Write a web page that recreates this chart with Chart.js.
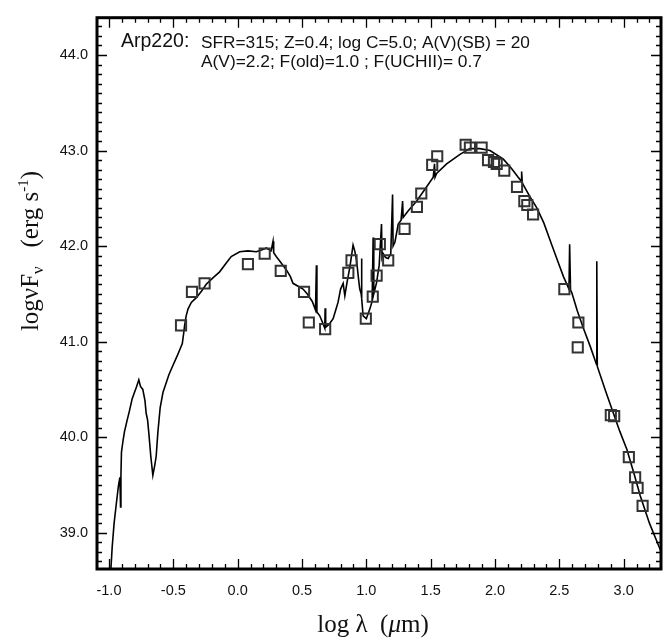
<!DOCTYPE html>
<html>
<head>
<meta charset="utf-8">
<script src="https://cdn.jsdelivr.net/npm/chart.js@4.4.1/dist/chart.umd.min.js"></script>
<style>
  html, body { margin: 0; padding: 0; background: #fff; }
</style>
</head>
<body>
<canvas id="sedChart" width="671" height="642"></canvas>
<script>
// observed photometry (log lambda [um], log nuF_nu)
const obsX = [-0.44, -0.355, -0.257, 0.08, 0.21, 0.335, 0.516, 0.553, 0.68, 0.86, 0.885, 0.996, 1.05, 1.08, 1.105,
  1.17, 1.297, 1.393, 1.427, 1.512, 1.551, 1.772, 1.805, 1.896, 1.946, 1.992, 2.013, 2.072, 2.171, 2.228, 2.251, 2.296,
  2.539, 2.648, 2.643, 2.90, 2.926, 3.04, 3.089, 3.108, 3.147];
const obsY = [41.17, 41.52, 41.61, 41.81, 41.92, 41.74, 41.52, 41.20, 41.13, 41.72, 41.85, 41.24, 41.47, 41.69, 42.02,
  41.85, 42.18, 42.41, 42.55, 42.85, 42.94, 43.06, 43.03, 43.03, 42.90, 42.88, 42.86, 42.79, 42.62, 42.47, 42.43, 42.33,
  41.55, 41.20, 40.94, 40.23, 40.22, 39.79, 39.58, 39.47, 39.28];

// model SED (incl. emission / absorption line spikes)
const modelX = [-0.988, -0.975, -0.96, -0.944, -0.93, -0.924, -0.915, -0.91, -0.907, -0.903, -0.89, -0.879, -0.86, -0.84,
  -0.82, -0.807, -0.785, -0.768, -0.755, -0.737, -0.72, -0.711, -0.70, -0.69, -0.675, -0.659, -0.645, -0.633, -0.62,
  -0.602, -0.58, -0.555, -0.535, -0.516, -0.47, -0.43, -0.42, -0.412, -0.40, -0.386, -0.36, -0.321, -0.28, -0.244,
  -0.19, -0.14, -0.09, -0.05, 0.016, 0.08, 0.145, 0.19, 0.223, 0.26, 0.275, 0.28, 0.30, 0.34, 0.379, 0.41, 0.43, 0.47,
  0.508, 0.54, 0.58, 0.605, 0.612, 0.616, 0.638, 0.66, 0.677, 0.68, 0.684, 0.71, 0.742, 0.76, 0.78, 0.80, 0.82, 0.833,
  0.85, 0.872, 0.897, 0.91, 0.924, 0.94, 0.949, 0.96, 0.962, 0.966, 0.975, 1.0, 1.027, 1.045, 1.053, 1.058, 1.08, 1.10,
  1.118, 1.122, 1.131, 1.15, 1.17, 1.19, 1.204, 1.208, 1.222, 1.248, 1.27, 1.282, 1.286, 1.326, 1.39, 1.469, 1.52,
  1.53, 1.534, 1.546, 1.624, 1.728, 1.805, 1.883, 1.961, 2.065, 2.13, 2.18, 2.205, 2.207, 2.212, 2.22, 2.27, 2.325,
  2.38, 2.428, 2.48, 2.532, 2.575, 2.58, 2.587, 2.597, 2.64, 2.687, 2.74, 2.789, 2.791, 2.795, 2.86, 2.92, 2.97,
  3.025, 3.08, 3.128, 3.20, 3.297];
const modelY = [38.55, 38.85, 39.10, 39.29, 39.45, 39.51, 39.58, 39.27, 39.60, 39.84, 39.97, 40.06, 40.17, 40.28,
  40.40, 40.45, 40.53, 40.60, 40.53, 40.50, 40.38, 40.25, 40.18, 40.04, 39.80, 39.60, 39.70, 39.80, 40.05,
  40.31, 40.47, 40.57, 40.65, 40.71, 40.85, 40.98, 41.08, 41.17, 41.27, 41.34, 41.41, 41.46, 41.53, 41.60,
  41.67, 41.73, 41.82, 41.89, 41.94, 41.95, 41.94, 41.96, 41.98, 41.95, 42.05, 41.93, 41.89, 41.82, 41.75, 41.68, 41.61, 41.58,
  41.55, 41.50, 41.42, 41.33, 41.80, 41.31, 41.27, 41.20, 41.14, 41.35, 41.15, 41.18, 41.24, 41.32, 41.41, 41.55, 41.61, 41.48,
  41.62, 41.78, 42.01, 41.95, 41.85, 41.65, 41.55, 41.50, 41.87, 41.45, 41.27, 41.24, 41.34, 41.42, 42.09, 41.50, 41.62, 41.80,
  42.23, 41.88, 41.92, 41.88, 41.87, 41.92, 42.54, 42.00, 42.04, 42.23, 42.27, 42.47, 42.30, 42.37, 42.47, 42.62, 42.72,
  42.86, 42.72, 42.76, 42.86, 42.96, 43.02, 43.02, 43.00, 42.91, 42.81, 42.72, 42.68, 42.78, 42.66, 42.64, 42.52, 42.40,
  42.24, 42.06, 41.87, 41.68, 41.55, 42.02, 41.54, 41.51, 41.32, 41.14, 40.95, 40.76, 41.84, 40.74, 40.48, 40.25, 40.06,
  39.87, 39.62, 39.39, 39.10, 38.78];

const xTickValues = [-1.0, -0.5, 0.0, 0.5, 1.0, 1.5, 2.0, 2.5, 3.0];
const yTickValues = [39.0, 40.0, 41.0, 42.0, 43.0, 44.0];

const infoName = 'Arp220:';
const infoLine1 = 'SFR=315; Z=0.4; log C=5.0; A(V)(SB) = 20';
const infoLine2 = 'A(V)=2.2; F(old)=1.0 ; F(UCHII)= 0.7';

const SANS = "'Liberation Sans', Arial, Helvetica, sans-serif";
const SERIF = "'Liberation Serif', 'Times New Roman', serif";

// frame, inward ticks, axis titles and labels inside the plot
const framePlugin = {
  id: 'frame',
  afterDraw(chart) {
    const ctx = chart.ctx;
    const a = chart.chartArea;
    const xs = chart.scales.x, ys = chart.scales.y;
    ctx.save();
    ctx.strokeStyle = '#000';

    // minor / major ticks on all four sides
    ctx.lineWidth = 1.3;
    ctx.beginPath();
    for (let i = -10; i <= 32; i++) {
      const px = Math.round(xs.getPixelForValue(i / 10)) + 0.5;
      if (px < a.left + 2 || px > a.right - 2) continue;
      const len = (i % 5 === 0) ? 10 : 5;
      ctx.moveTo(px, a.bottom); ctx.lineTo(px, a.bottom - len);
      ctx.moveTo(px, a.top); ctx.lineTo(px, a.top + len);
    }
    for (let i = 387; i <= 443; i++) {
      const py = Math.round(ys.getPixelForValue(i / 10)) + 0.5;
      if (py < a.top + 2 || py > a.bottom - 2) continue;
      const len = (i % 10 === 0) ? 10 : 5;
      ctx.moveTo(a.left, py); ctx.lineTo(a.left + len, py);
      ctx.moveTo(a.right, py); ctx.lineTo(a.right - len, py);
    }
    ctx.stroke();

    ctx.lineWidth = 3;
    ctx.strokeRect(a.left, a.top, a.right - a.left, a.bottom - a.top);

    // labels inside plot
    ctx.fillStyle = '#111';
    ctx.textBaseline = 'alphabetic';
    ctx.textAlign = 'left';
    ctx.font = '19.5px ' + SANS;
    ctx.fillText(infoName, 121, 47);
    ctx.font = '14px ' + SANS;
    const w1 = ctx.measureText(infoLine1).width;
    ctx.font = (14 * 329 / w1).toFixed(2) + 'px ' + SANS;
    ctx.fillText(infoLine1, 201, 48);
    ctx.font = '14px ' + SANS;
    const w2 = ctx.measureText(infoLine2).width;
    ctx.font = (14 * 281 / w2).toFixed(2) + 'px ' + SANS;
    ctx.fillText(infoLine2, 201, 67);

    // x title: log λ  (μm)
    const xParts = [
      { t: 'log \u03bb  (', f: '25px ' + SERIF },
      { t: '\u03bc', f: 'italic 25px ' + SERIF },
      { t: 'm)', f: '25px ' + SERIF }
    ];
    drawParts(ctx, xParts, 373, 632);

    // y title: logνFν (erg s-1), rotated
    ctx.save();
    ctx.translate(38, 251);
    ctx.rotate(-Math.PI / 2);
    const yParts = [
      { t: 'log\u03bdF', f: '25px ' + SERIF },
      { t: '\u03bd', f: '17px ' + SERIF, dy: 5 },
      { t: '   (erg s', f: '25px ' + SERIF },
      { t: '-1', f: '15px ' + SERIF, dy: -10 },
      { t: ')', f: '25px ' + SERIF }
    ];
    drawParts(ctx, yParts, 0, 0);
    ctx.restore();

    ctx.restore();
  }
};

function drawParts(ctx, parts, cx, baseY) {
  let total = 0;
  parts.forEach(p => { ctx.font = p.f; p.w = ctx.measureText(p.t).width; total += p.w; });
  let x = cx - total / 2;
  ctx.textAlign = 'left';
  ctx.fillStyle = '#111';
  parts.forEach(p => {
    ctx.font = p.f;
    ctx.fillText(p.t, x, baseY + (p.dy || 0));
    x += p.w;
  });
}

new Chart(document.getElementById('sedChart'), {
  type: 'scatter',
  plugins: [framePlugin],
  data: {
    datasets: [
      {
        label: 'observed',
        data: obsX.map((x, i) => ({ x: x, y: obsY[i] })),
        pointStyle: 'rect',
        pointRadius: 7.2,
        pointHoverRadius: 7.2,
        borderColor: '#333',
        backgroundColor: 'rgba(0,0,0,0)',
        borderWidth: 2,
        showLine: false,
        order: 1
      },
      {
        label: 'model',
        data: modelX.map((x, i) => ({ x: x, y: modelY[i] })),
        showLine: true,
        borderColor: '#000',
        borderWidth: 1.6,
        pointRadius: 0,
        tension: 0,
        fill: false,
        order: 2
      }
    ]
  },
  options: {
    responsive: false,
    animation: false,
    devicePixelRatio: 1,
    layout: { padding: { top: 6, right: 10, left: 0, bottom: 0 } },
    plugins: {
      legend: { display: false },
      tooltip: { enabled: false },
      title: { display: false }
    },
    scales: {
      x: {
        type: 'linear',
        min: -1.093,
        max: 3.29,
        grid: { display: false, drawTicks: false },
        border: { display: false },
        afterBuildTicks: (scale) => { scale.ticks = xTickValues.map(v => ({ value: v })); },
        afterFit: (scale) => { scale.height = 73; },
        ticks: {
          padding: 13,
          color: '#111',
          font: { family: SANS, size: 14.5 },
          maxRotation: 0,
          callback: (v) => Number(v).toFixed(1)
        }
      },
      y: {
        type: 'linear',
        min: 38.62,
        max: 44.39,
        grid: { display: false, drawTicks: false },
        border: { display: false },
        afterBuildTicks: (scale) => { scale.ticks = yTickValues.map(v => ({ value: v })); },
        afterFit: (scale) => { scale.width = 97; },
        ticks: {
          padding: 9,
          color: '#111',
          font: { family: SANS, size: 14.5 },
          callback: (v) => Number(v).toFixed(1)
        }
      }
    }
  }
});
</script>
</body>
</html>
